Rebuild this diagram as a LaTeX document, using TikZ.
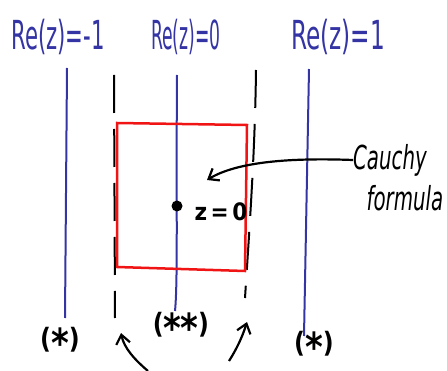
\documentclass[tikz,border=0pt]{standalone}
\usepackage{fontspec}
\setmainfont{DejaVu Sans}
\usetikzlibrary{arrows.meta}
\definecolor{penblue}{RGB}{52,52,165}
\definecolor{penred}{RGB}{240,20,20}
\newcommand{\bigstar}{\raisebox{-0.32em}{\fontsize{40}{40}\selectfont *}}
\begin{document}
\begin{tikzpicture}[x=1pt,y=-1pt,
  bluelbl/.style={text=penblue,font=\fontsize{40}{42}\selectfont,inner sep=0pt},
  blkl/.style={text=black,font=\bfseries\fontsize{24}{26}\selectfont,inner sep=0pt},
  starl/.style={text=black,font=\bfseries\fontsize{28}{30}\selectfont,inner sep=0pt,xscale=0.85},
  handl/.style={text=black,font=\fontsize{33}{35}\selectfont\itshape,xscale=0.6,inner sep=0pt},
  bline/.style={draw=penblue,line width=2pt},
  dline/.style={draw=black,line width=2pt,dash pattern=on 38pt off 16pt},
  arr/.style={draw=black,line width=2.2pt,-{Straight Barb[length=9pt,width=14pt]}}]
\useasboundingbox (0,0) rectangle (447,371);
% labels
\node[bluelbl,xscale=0.53] (l1) at (58,37) {Re(z)=-1};
\node[bluelbl,xscale=0.43] (l2) at (186,37) {Re(z)=0};
\node[bluelbl,xscale=0.58] (l3) at (338,37) {Re(z)=1};
% coordinates for lines
\coordinate (b1t) at (67,68);  \coordinate (b1b) at (65,318);
\coordinate (b2t) at (177,75); \coordinate (b2b) at (175,311);
\coordinate (b3t) at (309,69); \coordinate (b3b) at (304,336);
\coordinate (d1t) at (114,75); \coordinate (d1b) at (115,318);
\coordinate (d2t) at (256,70); \coordinate (d2b) at (245,298);
\draw[bline] (b1t) -- (b1b);
\draw[bline] (b2t) .. controls (176,200) and (178,280) .. (b2b);
\draw[bline] (b3t) -- (b3b);
\draw[dline] (d1t) -- (d1b);
\draw[dline] (d2t) .. controls (255,150) and (250,220) .. (d2b);
% red contour
\draw[draw=penred,line width=2.5pt] (117,123) -- (247,125) -- (245,271) -- (117,267) -- cycle;
% point
\node[circle,fill=black,inner sep=0pt,minimum size=11pt] (z0) at (177,206) {};
\node[blkl,xscale=0.9] (zl) at (221,212) {z\,=\,0};
% Cauchy formula
\node[handl] (c1) at (390,160) {Cauchy};
\node[handl] (c2) at (405,198) {formula};
\coordinate (ah) at (207,180);
\draw[arr] (c1.west) .. controls (300,158) and (240,160) .. (ah);
% stars
\node[starl] (s1) at (60,342) {(\bigstar)};
\node[starl] (s2) at (181,327) {(\bigstar\hspace{-0.05em}\bigstar)};
\node[starl] (s3) at (314,346) {(\bigstar)};
% bottom arrows
\coordinate (a1s) at (148,371); \coordinate (a1e) at (121,333);
\coordinate (a2s) at (229,361); \coordinate (a2e) at (247,322);
\draw[arr] (a1s) .. controls (135,360) and (124,348) .. (a1e);
\draw[arr] (a2s) .. controls (236,350) and (242,338) .. (a2e);
\end{tikzpicture}
\end{document}
